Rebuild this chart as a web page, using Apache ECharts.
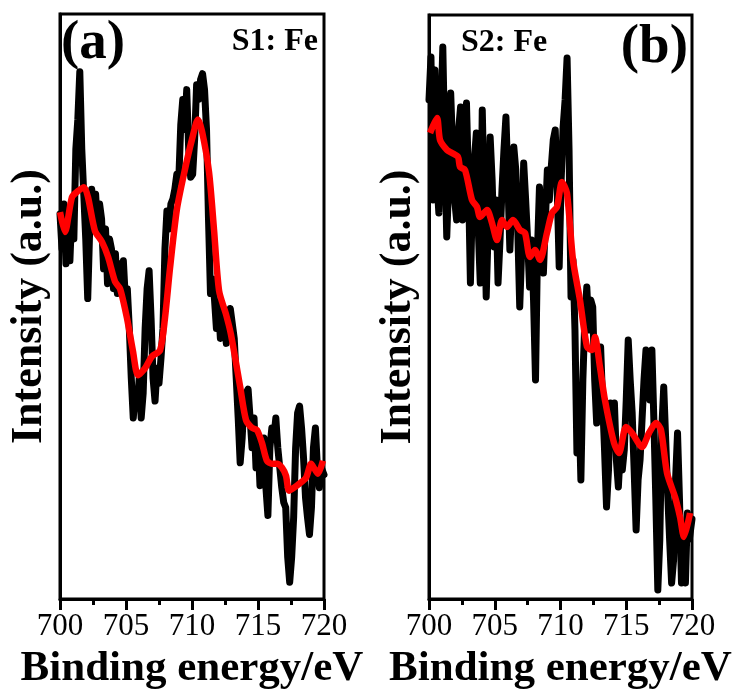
<!DOCTYPE html>
<html>
<head>
<meta charset="utf-8">
<script src="https://cdn.jsdelivr.net/npm/echarts@6/dist/echarts.min.js"></script>
<style>
html,body{margin:0;padding:0;background:#fff;}
#chart{width:747px;height:695px;}
</style>
</head>
<body>
<div id="chart"></div>
<script>
// Binding energy grid of the raw (black) spectra, eV
const energy = [
700.00,700.15,700.30,700.45,700.60,700.75,700.90,701.05,701.20,701.35,701.50,701.65,701.80,701.95,702.10,702.25,702.40,702.55,702.70,702.85,
703.00,703.15,703.30,703.45,703.60,703.75,703.90,704.05,704.20,704.35,704.50,704.65,704.80,704.95,705.10,705.25,705.40,705.55,705.70,705.85,
706.00,706.15,706.30,706.45,706.60,706.75,706.90,707.05,707.20,707.35,707.50,707.65,707.80,707.95,708.10,708.25,708.40,708.55,708.70,708.85,
709.00,709.15,709.30,709.45,709.60,709.75,709.90,710.05,710.20,710.35,710.50,710.65,710.80,710.95,711.10,711.25,711.40,711.55,711.70,711.85,
712.00,712.15,712.30,712.45,712.60,712.75,712.90,713.05,713.20,713.35,713.50,713.65,713.80,713.95,714.10,714.25,714.40,714.55,714.70,714.85,
715.00,715.15,715.30,715.45,715.60,715.75,715.90,716.05,716.20,716.35,716.50,716.65,716.80,716.95,717.10,717.25,717.40,717.55,717.70,717.85,
718.00,718.15,718.30,718.45,718.60,718.75,718.90,719.05,719.20,719.35,719.50,719.65,719.80,720.00
];

// (a) S1: Fe raw intensity (a.u.)
const s1Raw = [
387,352,397,337,377,340,392,362,452,482,530,452,407,362,302,372,412,392,407,372,
397,382,332,372,317,362,352,312,347,307,337,327,340,302,312,272,222,182,207,192,
222,182,207,272,312,330,282,222,199,232,217,242,272,352,390,372,397,402,412,427,
422,477,502,472,512,452,424,427,462,517,502,522,528,512,472,382,307,322,302,272,
297,262,292,282,257,272,292,294,262,222,182,137,162,202,207,211,182,152,182,132,
162,114,122,162,112,84,152,172,162,182,152,132,112,97,92,42,17,42,82,152,
187,194,172,142,102,82,65,92,152,172,132,112,132,125
];

// (a) S1: Fe fitted envelope
const s1FitE = [700.00,700.38,700.91,701.36,701.82,702.12,702.65,703.18,703.64,704.17,704.55,705.08,705.53,705.91,706.44,706.97,707.58,707.95,708.33,708.86,709.47,710.00,710.45,710.76,711.29,711.67,712.05,712.58,712.95,713.64,714.09,714.55,714.92,715.30,715.68,716.06,716.44,716.82,717.12,717.35,717.73,718.03,718.64,719.02,719.32,719.55,719.92];
const s1FitI = [389,369,404,410,414,404,370,359,344,319,312,282,249,225,232,244,250,282,332,392,432,462,482,470,429,371,310,286,266,214,180,172,170,157,139,136,136,132,124,109,112,115,122,136,130,126,139];

// (b) S2: Fe raw intensity (a.u.)
const s2Raw = [
499,542,399,529,419,386,479,552,449,362,419,506,449,399,379,469,492,379,439,496,
419,316,399,439,466,369,316,489,399,302,369,462,419,352,399,316,359,409,449,482,
419,349,399,452,429,369,292,349,436,399,359,312,359,299,219,349,412,369,326,379,
429,399,432,459,469,409,332,419,472,499,541,449,302,339,269,146,199,119,219,279,
312,269,299,292,219,176,229,252,199,149,92,129,196,159,196,139,112,149,129,149,
199,259,219,186,129,69,119,139,179,219,249,247,199,249,179,99,9,59,169,212,
159,106,59,16,39,119,166,99,16,39,16,86,60,80
];

// (b) S2: Fe fitted envelope
const s2FitE = [700.08,700.61,700.84,701.37,701.75,702.21,702.36,702.74,703.27,703.65,703.88,704.41,704.79,705.17,705.55,705.93,706.39,706.92,707.30,707.68,708.06,708.44,708.97,709.35,709.73,710.11,710.49,710.95,711.48,712.02,712.40,712.62,713.00,713.38,714.07,714.45,714.98,715.44,716.20,716.73,717.26,717.64,718.10,718.71,719.09,719.39,719.85];
const s2FitI = [466,481,459,449,446,442,432,429,399,392,382,389,376,359,379,372,379,369,366,342,349,339,366,386,392,417,406,339,299,252,249,262,232,199,156,146,172,166,152,166,176,169,126,102,82,62,86];

const xTicks = [700,705,710,715,720];

function pairs(xs, ys){ return ys.map((v,i)=>[xs[i], v]); }

const FONT = 'Liberation Serif';
function xAxisCfg(gi){
  return {
    gridIndex: gi, type:'value', min: xTicks[0], max: xTicks[xTicks.length-1], interval: xTicks[1]-xTicks[0],
    axisLine:{show:true, lineStyle:{color:'#000', width:3}},
    axisTick:{show:true, length:11, lineStyle:{color:'#000', width:3}},
    minorTick:{show:true, splitNumber:2, length:6, lineStyle:{color:'#000', width:3}},
    splitLine:{show:false}, minorSplitLine:{show:false},
    axisLabel:{fontSize:31, fontFamily:FONT, color:'#000', margin:12},
    name:'Binding energy/eV', nameLocation:'middle', nameGap:44,
    nameTextStyle:{fontSize:43, fontWeight:'bold', fontFamily:FONT, color:'#000'}
  };
}
function yAxisCfg(gi, maxV){
  return {
    gridIndex: gi, type:'value', min:0, max:maxV,
    axisLine:{show:true, lineStyle:{color:'#000', width:3}},
    axisTick:{show:false}, axisLabel:{show:false}, splitLine:{show:false},
    name:'Intensity (a.u.)', nameLocation:'middle', nameGap:8,
    nameTextStyle:{fontSize:44, fontWeight:'bold', fontFamily:FONT, color:'#000'}
  };
}

const chart = echarts.init(document.getElementById('chart'), null, {renderer:'canvas'});
chart.setOption({
  animation:false,
  backgroundColor:'#fff',
  grid:[
    {left:60, top:14, width:264, height:588, show:true, borderColor:'#000', borderWidth:3, backgroundColor:'transparent'},
    {left:429, top:15, width:263, height:584, show:true, borderColor:'#000', borderWidth:3, backgroundColor:'transparent'}
  ],
  xAxis:[xAxisCfg(0), xAxisCfg(1)],
  yAxis:[yAxisCfg(0,588), yAxisCfg(1,584)],
  series:[
    {type:'line', xAxisIndex:0, yAxisIndex:0, data:pairs(energy, s1Raw), showSymbol:false,
     lineStyle:{color:'#000', width:7, join:'round', cap:'round'}, z:2},
    {type:'line', xAxisIndex:0, yAxisIndex:0, data:pairs(s1FitE, s1FitI), showSymbol:false, smooth:0.25,
     lineStyle:{color:'#ff0000', width:6.5, join:'round'}, z:3},
    {type:'line', xAxisIndex:1, yAxisIndex:1, data:pairs(energy, s2Raw), showSymbol:false,
     lineStyle:{color:'#000', width:7, join:'round', cap:'round'}, z:2},
    {type:'line', xAxisIndex:1, yAxisIndex:1, data:pairs(s2FitE, s2FitI), showSymbol:false, smooth:0.25,
     lineStyle:{color:'#ff0000', width:6.5, join:'round'}, z:3}
  ],
  graphic:[
    {type:'text', left:61, top:16, style:{text:'(a)', font:'bold 55px "Liberation Serif"', fill:'#000'}},
    {type:'text', right:429, top:26, style:{text:'S1: Fe', font:'bold 32px "Liberation Serif"', fill:'#000'}},
    {type:'text', right:59, top:20, style:{text:'(b)', font:'bold 55px "Liberation Serif"', fill:'#000'}},
    {type:'text', left:461, top:27, style:{text:'S2: Fe', font:'bold 32px "Liberation Serif"', fill:'#000'}}
  ]
});
</script>
</body>
</html>
